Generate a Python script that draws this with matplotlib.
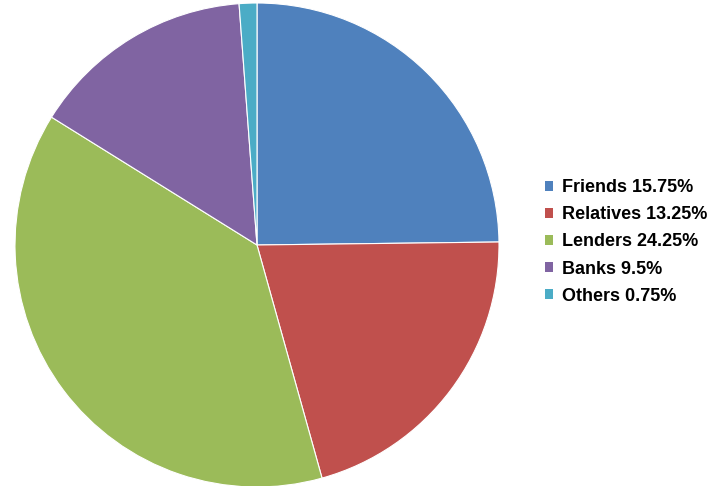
import matplotlib.pyplot as plt
from matplotlib.patches import Patch

categories = ["Friends", "Relatives", "Lenders", "Banks", "Others"]
values = [15.75, 13.25, 24.25, 9.5, 0.75]
labels = ["Friends 15.75%", "Relatives 13.25%", "Lenders 24.25%", "Banks 9.5%", "Others 0.75%"]
colors = ["#4F81BD", "#C0504D", "#9BBB59", "#8064A2", "#4BACC6"]

plt.rcParams['font.family'] = ['Liberation Sans', 'DejaVu Sans']

fig = plt.figure(figsize=(7.09, 4.86), dpi=100)
ax = fig.add_axes([15 / 709, -1 / 486, 484 / 709, 484 / 486])
ax.pie(values, colors=colors, startangle=90, counterclock=False, radius=1,
       wedgeprops=dict(edgecolor="white", linewidth=0.8))
ax.set_xlim(-1, 1)
ax.set_ylim(-1, 1)
ax.set_aspect("equal")
ax.axis("off")

handles = [Patch(facecolor=c, edgecolor="none") for c in colors]
fig.legend(handles, labels, loc="center left", bbox_to_anchor=(529 / 709, 244 / 486),
           frameon=False, handlelength=0.45, handleheight=0.45, handletextpad=0.45,
           labelspacing=0.56, prop=dict(size=13, weight="bold"))

fig.savefig("out.png", dpi=100)
